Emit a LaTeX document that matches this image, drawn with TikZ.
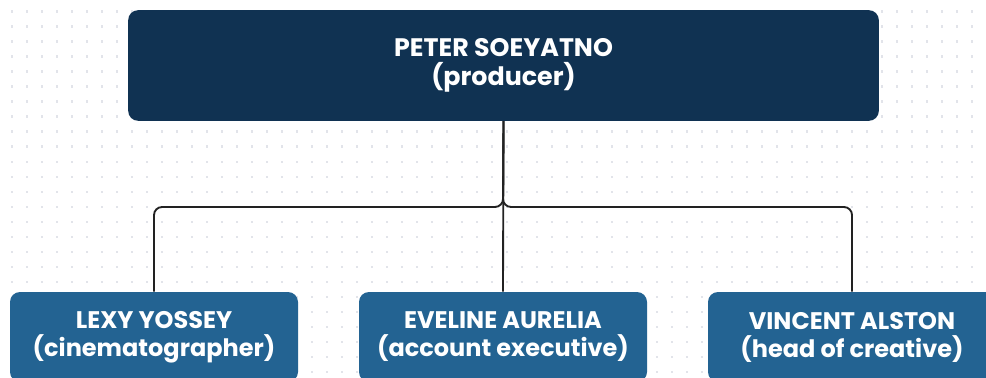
\documentclass[tikz,border=0pt]{standalone}
\usepackage{fontspec}
\setmainfont{Poppins}
\usetikzlibrary{positioning}
\definecolor{navy}{RGB}{16,50,82}
\definecolor{steel}{RGB}{35,99,146}
\definecolor{dotgray}{RGB}{226,228,234}
\definecolor{linegray}{RGB}{34,34,34}

\begin{document}
\begin{tikzpicture}[x=0.75pt,y=-0.75pt,
  headbox/.style={fill=navy,rounded corners=7.5pt,minimum width=563pt,minimum height=83pt,
    text=white,align=center,font=\bfseries\fontsize{19}{22}\selectfont},
  staffbox/.style={fill=steel,rounded corners=7.5pt,minimum width=216pt,minimum height=67.5pt,
    text=white,align=center,font=\bfseries\fontsize{18}{21}\selectfont},
  conn/.style={draw=linegray,line width=1.4pt,rounded corners=6pt}]
\useasboundingbox (0,0) rectangle (986,378);
\clip (0,0) rectangle (986,378);
\fill[white] (0,0) rectangle (986,378);
% dotted background
\foreach \i in {0,...,65}
  \foreach \j in {0,...,24}
    \fill[dotgray] (10.5+15*\i,10.5+15*\j) rectangle ++(2.6,2.6);

\node[headbox] (peter) at (503.5,65.5) {PETER SOEYATNO\\(producer)};
\node[staffbox] (eveline) at (503,337) {EVELINE AURELIA\\(account executive)};
\node[staffbox] (lexy) at (154,337) {LEXY YOSSEY\\(cinematographer)};
\node[staffbox] (vincent) at (852,337) {VINCENT ALSTON\\(head of creative)};

\coordinate (join) at (503,207);
\draw[conn] (lexy.north) |- (join) -- (peter.south);
\draw[conn] (vincent.north) |- (join) -- (peter.south);
\draw[conn] (peter.south) -- (eveline.north);
\end{tikzpicture}
\end{document}
